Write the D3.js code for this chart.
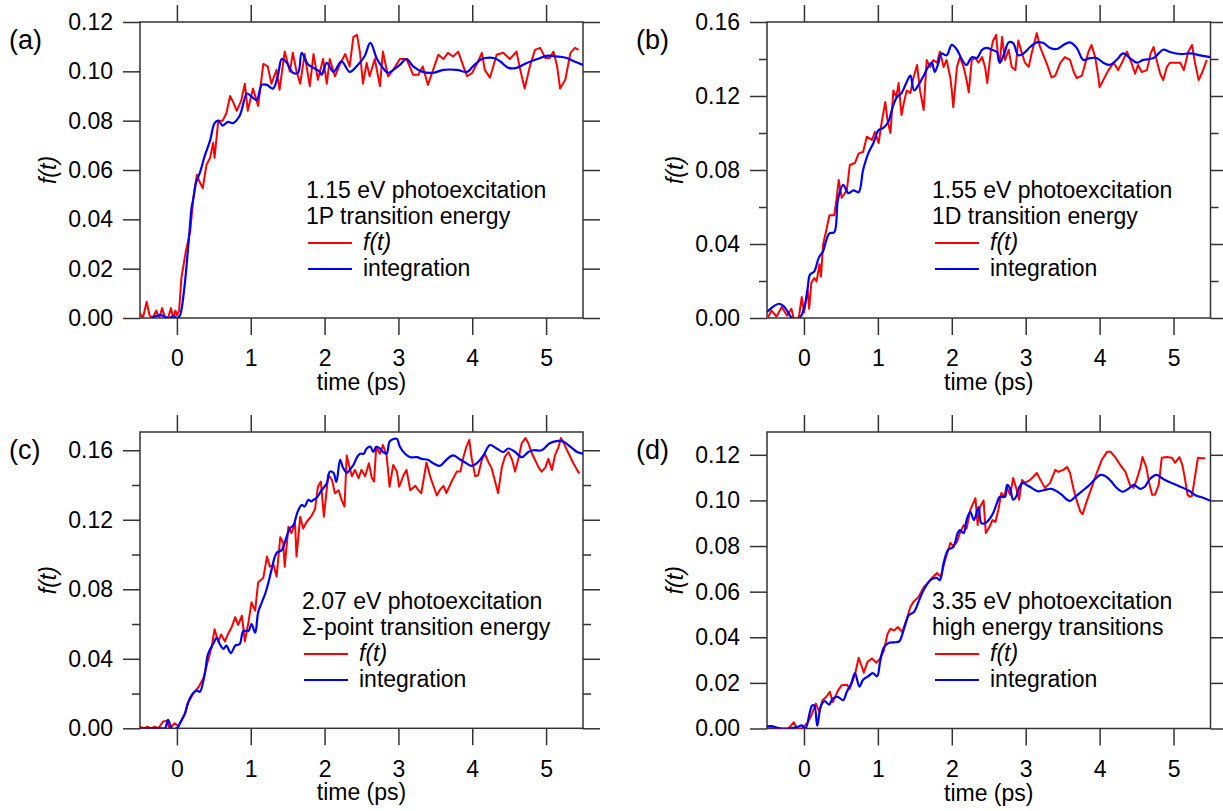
<!DOCTYPE html>
<html><head><meta charset="utf-8">
<script src="https://cdn.jsdelivr.net/npm/d3@7"></script>
<style>
html,body{margin:0;padding:0;background:#fff;}
svg{display:block;font-family:"Liberation Sans",Arial,sans-serif;}
</style></head>
<body><svg id="chart" width="1223" height="811"></svg>
<script>
// ---------- shared tick labels ----------
const xTicks = [0,1,2,3,4,5];
const aYTicks = [0,0.02,0.04,0.06,0.08,0.10,0.12];
const bYTicks = [0,0.04,0.08,0.12,0.16];
const bYMinor = [0.02,0.06,0.10,0.14];
const cYTicks = [0,0.04,0.08,0.12,0.16];
const cYMinor = [0.02,0.06,0.10,0.14];
const dYTicks = [0,0.02,0.04,0.06,0.08,0.10,0.12];
const panelLabels = ["(a)","(b)","(c)","(d)"];
const legendTitles = [
  ["1.15 eV photoexcitation","1P transition energy"],
  ["1.55 eV photoexcitation","1D transition energy"],
  ["2.07 eV photoexcitation","\u03A3-point transition energy"],
  ["3.35 eV photoexcitation","high energy transitions"]
];
const seriesNames = ["f(t)","integration"];

// ---------- panel (a) ----------
const aRedT = [-0.5,-0.46,-0.41,-0.37,-0.33,-0.28,-0.24,-0.2,-0.16,-0.12,-0.08,-0.05,-0.02,0.0,0.03,0.06,0.12,0.18,0.22,0.27,0.31,0.35,0.40,0.45,0.49,0.51,0.56,0.62,0.67,0.72,0.77,0.81,0.87,0.92,0.96,1.03,1.1,1.17,1.23,1.28,1.35,1.39,1.46,1.53,1.57,1.62,1.67,1.73,1.80,1.85,1.91,1.98,2.03,2.07,2.14,2.21,2.28,2.34,2.39,2.44,2.48,2.52,2.57,2.61,2.68,2.75,2.79,2.86,2.93,3.02,3.11,3.2,3.27,3.33,3.40,3.47,3.54,3.61,3.67,3.74,3.81,3.88,3.93,4.0,4.07,4.13,4.17,4.24,4.33,4.42,4.51,4.6,4.65,4.71,4.78,4.85,4.92,4.99,5.05,5.1,5.15,5.19,5.26,5.33,5.39,5.44];
const aRedF = [0.002,0.0,0.0066,0.001,0.0,0.003,0.0,0.004,0.0,0.0,0.004,0.0,0.003,0.001,0.003,0.016,0.027,0.035,0.048,0.058,0.055,0.0527,0.062,0.065,0.071,0.065,0.080,0.080,0.083,0.090,0.087,0.084,0.088,0.095,0.084,0.093,0.086,0.103,0.102,0.095,0.1006,0.0925,0.108,0.0998,0.1075,0.100,0.095,0.107,0.094,0.107,0.0966,0.105,0.095,0.105,0.098,0.103,0.107,0.102,0.114,0.1148,0.1075,0.095,0.1034,0.098,0.105,0.094,0.108,0.098,0.1006,0.105,0.105,0.0986,0.0986,0.102,0.0945,0.1006,0.1067,0.105,0.1075,0.106,0.108,0.102,0.098,0.0994,0.1034,0.1075,0.1006,0.0974,0.1067,0.1075,0.105,0.108,0.1006,0.093,0.102,0.1087,0.1095,0.1054,0.1054,0.108,0.102,0.093,0.0966,0.1075,0.1095,0.1087];
const aBlueT = [-0.35,-0.28,-0.22,-0.16,-0.1,-0.05,0.0,0.04,0.06,0.1,0.13,0.17,0.2,0.22,0.26,0.31,0.38,0.45,0.51,0.56,0.62,0.69,0.76,0.85,0.95,1.01,1.08,1.15,1.22,1.30,1.37,1.42,1.49,1.57,1.64,1.69,1.77,1.85,1.93,1.96,2.03,2.12,2.23,2.34,2.45,2.54,2.62,2.71,2.79,2.86,2.93,3.02,3.11,3.2,3.33,3.47,3.61,3.79,3.93,4.01,4.13,4.29,4.38,4.49,4.6,4.74,4.88,5.01,5.15,5.28,5.37,5.5];
const aBlueF = [0.0,0.0008,0.0012,0.0005,0.0,0.0008,0.0,0.001,0.003,0.012,0.021,0.035,0.045,0.048,0.055,0.0588,0.066,0.072,0.079,0.080,0.078,0.0795,0.079,0.082,0.091,0.0897,0.0884,0.0945,0.0945,0.093,0.0986,0.105,0.1034,0.0994,0.0994,0.1075,0.103,0.1014,0.100,0.0986,0.1034,0.0998,0.104,0.0998,0.1026,0.106,0.1115,0.105,0.1014,0.0994,0.1006,0.1026,0.105,0.102,0.0998,0.0994,0.1006,0.1006,0.0998,0.102,0.105,0.1054,0.104,0.1014,0.1014,0.1034,0.105,0.1063,0.106,0.1054,0.1042,0.1026];

// ---------- panel (b) ----------
const bRedT = [-0.49,-0.44,-0.37,-0.3,-0.23,-0.17,-0.14,-0.07,-0.03,0.0,0.05,0.07,0.1,0.14,0.17,0.21,0.23,0.26,0.3,0.345,0.41,0.44,0.47,0.51,0.58,0.62,0.69,0.74,0.80,0.85,0.92,0.96,1.01,1.05,1.10,1.13,1.17,1.21,1.25,1.28,1.32,1.35,1.39,1.44,1.48,1.53,1.57,1.62,1.66,1.71,1.75,1.80,1.84,1.89,1.93,1.98,2.0,2.02,2.07,2.11,2.16,2.20,2.23,2.27,2.32,2.36,2.41,2.45,2.48,2.53,2.56,2.60,2.63,2.65,2.68,2.72,2.77,2.81,2.86,2.90,2.95,2.99,3.04,3.08,3.15,3.19,3.24,3.28,3.35,3.40,3.47,3.53,3.60,3.65,3.69,3.76,3.80,3.85,3.89,3.94,3.98,4.0,4.05,4.12,4.19,4.25,4.32,4.37,4.43,4.48,4.52,4.57,4.64,4.69,4.73,4.78,4.82,4.86,4.91,4.95,5.0,5.05,5.09,5.14,5.20,5.25,5.29,5.34,5.38,5.45];
const bRedF = [0.0,0.004,0.0008,0.006,0.0013,0.005,0.0,0.0,0.0114,0.003,0.015,0.005,0.019,0.0216,0.0197,0.029,0.0224,0.040,0.047,0.0555,0.0556,0.064,0.0746,0.065,0.069,0.0827,0.0838,0.089,0.0897,0.098,0.0962,0.1006,0.0946,0.1054,0.1168,0.107,0.100,0.123,0.1195,0.127,0.1097,0.116,0.123,0.1216,0.1297,0.1368,0.123,0.1124,0.1395,0.1357,0.1395,0.138,0.144,0.1357,0.1395,0.130,0.123,0.114,0.1357,0.141,0.1357,0.1286,0.122,0.1395,0.1405,0.138,0.141,0.1357,0.127,0.145,0.150,0.153,0.1395,0.138,0.152,0.1395,0.145,0.1357,0.134,0.150,0.143,0.138,0.1357,0.143,0.154,0.147,0.142,0.138,0.130,0.131,0.138,0.141,0.1395,0.133,0.1297,0.131,0.1368,0.144,0.1476,0.141,0.131,0.1248,0.1286,0.134,0.138,0.134,0.1395,0.144,0.138,0.132,0.1368,0.133,0.134,0.143,0.1465,0.138,0.132,0.1286,0.1357,0.138,0.138,0.138,0.138,0.134,0.144,0.1476,0.138,0.1286,0.132,0.1395];
const bBlueT = [-0.5,-0.42,-0.34,-0.28,-0.23,-0.16,-0.06,0.0,0.05,0.08,0.14,0.2,0.26,0.3,0.345,0.41,0.46,0.53,0.6,0.67,0.74,0.80,0.87,0.94,1.01,1.07,1.14,1.20,1.26,1.32,1.39,1.44,1.49,1.55,1.62,1.68,1.73,1.77,1.82,1.86,1.93,2.0,2.07,2.14,2.20,2.27,2.34,2.41,2.47,2.54,2.61,2.65,2.71,2.77,2.83,2.90,2.97,3.06,3.15,3.24,3.33,3.42,3.51,3.60,3.69,3.78,3.87,3.96,4.05,4.14,4.23,4.32,4.41,4.50,4.59,4.73,4.86,4.95,5.09,5.23,5.36,5.5];
const bBlueF = [0.0032,0.006,0.0077,0.0065,0.004,0.0,0.0,0.005,0.016,0.0233,0.0252,0.0325,0.0362,0.0417,0.0458,0.0463,0.064,0.072,0.0675,0.069,0.068,0.080,0.089,0.0946,0.1016,0.1027,0.106,0.114,0.1195,0.1216,0.1276,0.131,0.123,0.126,0.131,0.1357,0.138,0.133,0.138,0.143,0.142,0.1476,0.145,0.1395,0.1368,0.141,0.1405,0.145,0.146,0.145,0.1438,0.138,0.143,0.149,0.1486,0.142,0.143,0.1465,0.149,0.1486,0.146,0.1454,0.1476,0.149,0.146,0.1395,0.1405,0.1405,0.138,0.1368,0.1395,0.143,0.1405,0.138,0.1395,0.1405,0.145,0.1438,0.1427,0.143,0.142,0.141];

// ---------- panel (c) ----------
const cRedT = [-0.5,-0.45,-0.4,-0.35,-0.3,-0.25,-0.19,-0.14,-0.1,-0.03,0.02,0.06,0.11,0.15,0.22,0.29,0.36,0.42,0.47,0.51,0.56,0.60,0.65,0.70,0.74,0.79,0.83,0.88,0.92,0.97,1.01,1.06,1.10,1.17,1.22,1.26,1.31,1.35,1.40,1.44,1.46,1.51,1.55,1.60,1.62,1.67,1.71,1.76,1.82,1.87,1.91,1.95,1.99,2.05,2.10,2.14,2.19,2.23,2.27,2.30,2.33,2.37,2.41,2.46,2.50,2.55,2.60,2.64,2.67,2.70,2.75,2.79,2.84,2.88,2.93,2.98,3.01,3.07,3.11,3.16,3.23,3.27,3.31,3.38,3.43,3.47,3.52,3.56,3.61,3.65,3.72,3.79,3.84,3.88,3.92,3.96,3.99,4.04,4.08,4.13,4.17,4.22,4.26,4.31,4.35,4.40,4.44,4.49,4.54,4.58,4.63,4.67,4.72,4.76,4.81,4.85,4.90,4.94,4.99,5.03,5.08,5.12,5.17,5.20,5.23,5.28,5.33,5.37,5.42,5.45];
const cRedF = [0.001,0.0,0.001,0.0,0.001,0.0,0.0038,0.0044,0.0,0.0029,0.001,0.0044,0.0086,0.0145,0.020,0.0235,0.029,0.0389,0.0466,0.057,0.050,0.054,0.050,0.055,0.058,0.064,0.0595,0.0648,0.050,0.0613,0.0725,0.0677,0.084,0.0865,0.0988,0.093,0.094,0.0873,0.110,0.1066,0.093,0.116,0.1123,0.118,0.0988,0.1218,0.115,0.119,0.122,0.126,0.139,0.142,0.1218,0.1457,0.143,0.1353,0.137,0.1315,0.1276,0.157,0.1515,0.145,0.1487,0.144,0.1487,0.145,0.1525,0.144,0.142,0.162,0.158,0.163,0.157,0.139,0.1515,0.1477,0.139,0.1457,0.1487,0.137,0.1395,0.137,0.1353,0.153,0.145,0.140,0.134,0.137,0.1395,0.1353,0.142,0.1477,0.1477,0.156,0.162,0.166,0.156,0.145,0.1457,0.1545,0.158,0.153,0.150,0.142,0.1353,0.150,0.156,0.159,0.1545,0.1477,0.156,0.164,0.167,0.164,0.158,0.1545,0.150,0.1477,0.150,0.155,0.1487,0.157,0.162,0.167,0.165,0.1604,0.156,0.1525,0.1487,0.1467];
const cBlueT = [-0.5,-0.2,-0.16,-0.12,-0.07,0.0,0.04,0.11,0.15,0.22,0.27,0.31,0.38,0.42,0.49,0.54,0.58,0.63,0.67,0.73,0.79,0.85,0.90,0.97,1.01,1.06,1.10,1.15,1.20,1.24,1.28,1.35,1.42,1.48,1.53,1.58,1.63,1.69,1.73,1.78,1.82,1.85,1.89,1.96,2.03,2.07,2.12,2.16,2.21,2.25,2.30,2.34,2.39,2.44,2.48,2.53,2.57,2.62,2.66,2.70,2.75,2.79,2.84,2.88,2.93,2.98,3.02,3.09,3.16,3.25,3.32,3.40,3.47,3.56,3.65,3.74,3.84,3.92,3.99,4.06,4.15,4.24,4.33,4.42,4.49,4.58,4.67,4.76,4.83,4.94,5.05,5.14,5.23,5.33,5.42,5.5];
const cBlueF = [0.0,0.0,0.0,0.0048,0.0,0.0,0.0029,0.0086,0.0147,0.0203,0.0217,0.021,0.032,0.0426,0.0485,0.052,0.0485,0.0457,0.0476,0.0433,0.0476,0.0485,0.056,0.056,0.060,0.055,0.0667,0.0725,0.078,0.084,0.091,0.1009,0.1026,0.1095,0.115,0.117,0.124,0.1285,0.1276,0.1315,0.1305,0.1315,0.1325,0.137,0.141,0.1477,0.147,0.1418,0.1545,0.150,0.147,0.1487,0.1515,0.156,0.158,0.158,0.161,0.162,0.159,0.162,0.161,0.159,0.158,0.165,0.1665,0.1665,0.162,0.158,0.156,0.156,0.155,0.1545,0.1525,0.151,0.1545,0.157,0.1545,0.1525,0.151,0.1525,0.157,0.163,0.161,0.159,0.161,0.159,0.156,0.159,0.160,0.160,0.164,0.1653,0.165,0.162,0.159,0.158];

// ---------- panel (d) ----------
const dRedT = [-0.48,-0.44,-0.38,-0.3,-0.21,-0.14,-0.09,-0.02,0.05,0.1,0.16,0.21,0.25,0.30,0.35,0.39,0.46,0.51,0.58,0.62,0.69,0.74,0.78,0.81,0.86,0.92,0.98,1.03,1.08,1.13,1.17,1.22,1.27,1.33,1.39,1.44,1.48,1.55,1.62,1.68,1.73,1.80,1.85,1.91,1.98,2.02,2.07,2.11,2.16,2.20,2.25,2.29,2.32,2.35,2.38,2.43,2.46,2.51,2.55,2.59,2.63,2.67,2.71,2.74,2.79,2.83,2.87,2.91,2.95,2.99,3.06,3.10,3.15,3.20,3.26,3.33,3.40,3.44,3.51,3.56,3.60,3.65,3.69,3.74,3.77,3.83,3.89,3.96,4.03,4.10,4.15,4.21,4.28,4.35,4.41,4.46,4.50,4.55,4.58,4.63,4.67,4.71,4.75,4.80,4.84,4.91,4.98,5.02,5.08,5.12,5.15,5.19,5.22,5.25,5.29,5.33,5.38,5.43];
const dRedF = [0.0,0.0009,0.0003,0.0,0.0,0.0027,0.0,0.0,0.0027,0.0057,0.0109,0.0072,0.0124,0.0138,0.0161,0.0116,0.0166,0.019,0.0192,0.0175,0.0236,0.031,0.0274,0.0245,0.0292,0.0307,0.0288,0.0307,0.034,0.0414,0.0437,0.043,0.0445,0.0423,0.048,0.0533,0.0555,0.0577,0.062,0.0638,0.066,0.0682,0.0665,0.0739,0.0813,0.080,0.0818,0.0857,0.0892,0.0877,0.0958,0.0988,0.101,0.0892,0.097,0.100,0.0857,0.0884,0.0914,0.0906,0.0958,0.1033,0.1016,0.106,0.1025,0.1098,0.1055,0.1003,0.109,0.1077,0.109,0.1103,0.112,0.109,0.1055,0.1077,0.1134,0.1125,0.1134,0.1147,0.112,0.1046,0.100,0.095,0.094,0.100,0.1055,0.112,0.1178,0.1213,0.1213,0.119,0.1155,0.1125,0.1068,0.1055,0.109,0.1142,0.119,0.1147,0.1077,0.1025,0.1025,0.1068,0.1187,0.119,0.1187,0.1165,0.119,0.1155,0.1103,0.1025,0.1016,0.102,0.1103,0.1187,0.1185,0.1185];
const dBlueT = [-0.5,-0.44,-0.32,-0.2,-0.07,-0.03,0.02,0.08,0.11,0.14,0.18,0.23,0.28,0.34,0.39,0.46,0.53,0.58,0.64,0.69,0.75,0.80,0.87,0.93,0.99,1.03,1.08,1.15,1.24,1.29,1.36,1.42,1.49,1.56,1.62,1.71,1.80,1.84,1.89,1.95,2.02,2.08,2.11,2.16,2.20,2.25,2.30,2.36,2.40,2.45,2.50,2.56,2.61,2.65,2.72,2.75,2.79,2.83,2.87,2.91,2.96,3.01,3.08,3.17,3.26,3.35,3.42,3.49,3.56,3.60,3.67,3.76,3.85,3.94,4.01,4.07,4.15,4.23,4.31,4.39,4.46,4.55,4.61,4.68,4.77,4.86,4.95,5.04,5.13,5.22,5.31,5.40,5.5];
const dBlueF = [0.0009,0.001,0.0,0.0,0.0009,0.0014,0.0,0.0072,0.0101,0.0101,0.0012,0.0101,0.012,0.0105,0.0131,0.0138,0.0124,0.0161,0.0198,0.0243,0.0184,0.0214,0.0229,0.0243,0.0229,0.0293,0.0355,0.0376,0.0378,0.0382,0.0444,0.0497,0.0512,0.0564,0.0607,0.0651,0.066,0.0651,0.0726,0.0783,0.0796,0.0857,0.087,0.0857,0.0914,0.095,0.0914,0.097,0.090,0.090,0.0914,0.0945,0.0988,0.1016,0.1016,0.1068,0.1051,0.1003,0.1016,0.1055,0.1077,0.1068,0.1055,0.104,0.1046,0.1051,0.104,0.1024,0.1003,0.0998,0.1016,0.104,0.1064,0.1094,0.1112,0.1108,0.1086,0.1055,0.1038,0.1051,0.1068,0.1051,0.106,0.1094,0.1112,0.1094,0.108,0.1068,0.1055,0.104,0.102,0.1012,0.0998];

// ---------- layout / styling config (built from the arrays above) ----------
const RED = "#ff0000", BLUE = "#0000ff", AXIS = "#333333";
const FS = 23;
const panels = [
  {label:panelLabels[0], left:140, top:22, w:443, h:296, yMax:0.12, major:aYTicks, minor:[],
   red:[aRedT,aRedF], blue:[aBlueT,aBlueF], titles:legendTitles[0], txtX:306, txtY:198, legX:308, yLabX:56},
  {label:panelLabels[1], left:767, top:22, w:443.5, h:296, yMax:0.16, major:bYTicks, minor:bYMinor,
   red:[bRedT,bRedF], blue:[bBlueT,bBlueF], titles:legendTitles[1], txtX:932, txtY:198, legX:935, yLabX:683},
  {label:panelLabels[2], left:140, top:432, w:443, h:296.3, yMax:0.1705, major:cYTicks, minor:cYMinor,
   red:[cRedT,cRedF], blue:[cBlueT,cBlueF], titles:legendTitles[2], txtX:302, txtY:609, legX:304, yLabX:56},
  {label:panelLabels[3], left:767, top:432, w:443.5, h:296.5, yMax:0.13, major:dYTicks, minor:[],
   red:[dRedT,dRedF], blue:[dBlueT,dBlueF], titles:legendTitles[3], txtX:932, txtY:609, legX:935, yLabX:683}
];

const svg = d3.select("#chart");
const fmt = d3.format(".2f");

panels.forEach((p, i) => {
  const g = svg.append("g").attr("transform", `translate(${p.left},${p.top})`);
  const x = d3.scaleLinear().domain([-0.5, 5.5]).range([0, p.w]);
  const y = d3.scaleLinear().domain([0, p.yMax]).range([p.h, 0]);

  const clipId = "clip" + i;
  g.append("clipPath").attr("id", clipId).append("rect")
    .attr("x", 0).attr("y", -2).attr("width", p.w).attr("height", p.h + 2);

  const styleAxis = sel => {
    sel.select(".domain").remove();
    sel.selectAll("line").attr("stroke", AXIS).attr("stroke-width", 1.5);
    sel.selectAll("text").attr("fill", "#000").style("font-size", FS + "px")
      .style("font-family", '"Liberation Sans", Arial, sans-serif');
  };

  // bottom axis with labels
  g.append("g").attr("transform", `translate(0,${p.h})`)
    .call(d3.axisBottom(x).tickValues(xTicks).tickSize(17).tickPadding(15).tickFormat(d3.format("d")))
    .call(styleAxis);
  // top axis ticks
  g.append("g")
    .call(d3.axisTop(x).tickValues(xTicks).tickSize(17).tickFormat(""))
    .call(styleAxis);
  // left axis
  g.append("g")
    .call(d3.axisLeft(y).tickValues(p.major).tickSize(17).tickPadding(10).tickFormat(fmt))
    .call(styleAxis);
  if (p.minor.length) {
    g.append("g").call(d3.axisLeft(y).tickValues(p.minor).tickSize(8).tickFormat("")).call(styleAxis);
    g.append("g").attr("transform", `translate(${p.w},0)`)
      .call(d3.axisRight(y).tickValues(p.minor).tickSize(8).tickFormat("")).call(styleAxis);
  }
  g.append("g").attr("transform", `translate(${p.w},0)`)
    .call(d3.axisRight(y).tickValues(p.major).tickSize(17).tickFormat(""))
    .call(styleAxis);

  // frame
  g.append("rect").attr("x", 0).attr("y", 0).attr("width", p.w).attr("height", p.h)
    .attr("fill", "none").attr("stroke", AXIS).attr("stroke-width", 1.5);

  // data lines
  const redData = p.red[0].map((t, k) => [t, p.red[1][k]]);
  const blueData = p.blue[0].map((t, k) => [t, p.blue[1][k]]);
  const lineRed = d3.line().x(d => x(d[0])).y(d => y(d[1]));
  const lineBlue = d3.line().x(d => x(d[0])).y(d => y(d[1])).curve(d3.curveCatmullRom.alpha(0.5));
  const plot = g.append("g").attr("clip-path", `url(#${clipId})`);
  plot.append("path").datum(redData).attr("d", lineRed)
    .attr("fill", "none").attr("stroke", RED).attr("stroke-width", 2).attr("stroke-linejoin", "round");
  plot.append("path").datum(blueData).attr("d", lineBlue)
    .attr("fill", "none").attr("stroke", BLUE).attr("stroke-width", 2.2).attr("stroke-linejoin", "round");

  // axis titles
  svg.append("text").attr("x", p.left + x(2.5)).attr("y", p.top + p.h + 72)
    .attr("text-anchor", "middle").style("font-size", FS + "px").text("time (ps)");
  svg.append("text").attr("transform", `translate(${p.yLabX},${p.top + p.h / 2}) rotate(-90)`)
    .attr("text-anchor", "middle").style("font-size", FS + "px").style("font-style", "italic").text("f(t)");

  // panel label
  const lx = (i % 2 === 0) ? 9 : 636;
  svg.append("text").attr("x", lx).attr("y", p.top + 27)
    .style("font-size", "27px").text(p.label);

  // legend text
  const L = 26;
  svg.append("text").attr("x", p.txtX).attr("y", p.txtY).style("font-size", FS + "px").text(p.titles[0]);
  svg.append("text").attr("x", p.txtX).attr("y", p.txtY + L).style("font-size", FS + "px").text(p.titles[1]);
  [[RED, seriesNames[0], true], [BLUE, seriesNames[1], false]].forEach((s, k) => {
    const by = p.txtY + L * (2 + k);
    svg.append("line").attr("x1", p.legX).attr("x2", p.legX + 44)
      .attr("y1", by - 7).attr("y2", by - 7).attr("stroke", s[0]).attr("stroke-width", 2);
    svg.append("text").attr("x", p.legX + 55).attr("y", by).style("font-size", FS + "px")
      .style("font-style", s[2] ? "italic" : "normal").text(s[1]);
  });
});
</script>
</body></html>
